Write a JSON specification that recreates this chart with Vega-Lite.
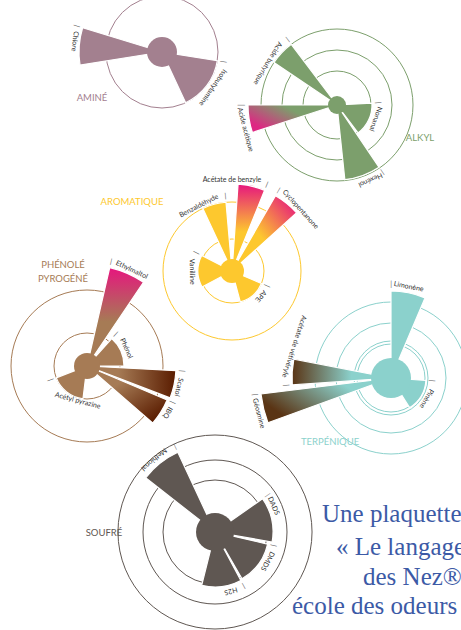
{
  "$schema": "https://vega.github.io/schema/vega-lite/v6.json",
  "width": 461,
  "height": 630,
  "padding": 0,
  "autosize": {"type": "none"},
  "background": "#ffffff",
  "config": {"view": {"stroke": null}},
  "datasets": {
    "centers": [
      {"g": "amine", "cx": 162, "cy": 52, "hub": 15},
      {"g": "alkyl", "cx": 337, "cy": 105, "hub": 9},
      {"g": "aromatique", "cx": 232, "cy": 271, "hub": 12},
      {"g": "phenole", "cx": 87, "cy": 366, "hub": 13},
      {"g": "terpenique", "cx": 391, "cy": 378, "hub": 20},
      {"g": "soufre", "cx": 215, "cy": 532, "hub": 19}
    ],
    "rings": [
      {"g": "amine", "r": 56},
      {"g": "alkyl", "r": 34}, {"g": "alkyl", "r": 55}, {"g": "alkyl", "r": 76},
      {"g": "aromatique", "r": 32}, {"g": "aromatique", "r": 69},
      {"g": "phenole", "r": 33}, {"g": "phenole", "r": 76},
      {"g": "terpenique", "r": 34}, {"g": "terpenique", "r": 37}, {"g": "terpenique", "r": 55}, {"g": "terpenique", "r": 76},
      {"g": "soufre", "r": 52}, {"g": "soufre", "r": 72}, {"g": "soufre", "r": 97}
    ],
    "wedges": [
      {"g": "amine", "name": "Chlore", "t0": 261, "t1": 287, "r": 83, "lt": 277, "lr": 88},
      {"g": "amine", "name": "Isobutylamine", "t0": 99, "t1": 155, "r": 56, "lt": 125, "lr": 62},
      {"g": "alkyl", "name": "Acide butyrique", "t0": 304, "t1": 323, "r": 76, "lt": 301, "lr": 81},
      {"g": "alkyl", "name": "Acide acétique", "t0": 252, "t1": 270, "r": 89, "lt": 255, "lr": 95},
      {"g": "alkyl", "name": "Nonanal", "t0": 87, "t1": 143, "r": 35, "lt": 110, "lr": 41},
      {"g": "alkyl", "name": "Hexénol", "t0": 146, "t1": 174, "r": 75, "lt": 156, "lr": 82},
      {"g": "aromatique", "name": "Vanilline", "t0": 242, "t1": 297, "r": 34, "lt": 269, "lr": 40},
      {"g": "aromatique", "name": "Benzaldéhyde", "t0": 335, "t1": 355, "r": 69, "lt": 333, "lr": 73},
      {"g": "aromatique", "name": "Acétate de benzyle", "t0": 4, "t1": 22, "r": 87, "lt": 0, "lr": 91},
      {"g": "aromatique", "name": "Cyclopentanone", "t0": 30, "t1": 48, "r": 87, "lt": 48, "lr": 92},
      {"g": "aromatique", "name": "APE", "t0": 113, "t1": 165, "r": 32, "lt": 131, "lr": 38},
      {"g": "phenole", "name": "Ethylmaltol", "t0": 13, "t1": 34, "r": 101, "lt": 25, "lr": 106},
      {"g": "phenole", "name": "Phénol", "t0": 42, "t1": 90, "r": 37, "lt": 66, "lr": 43},
      {"g": "phenole", "name": "Scatol", "t0": 93, "t1": 111, "r": 89, "lt": 103, "lr": 94},
      {"g": "phenole", "name": "IBQ", "t0": 113, "t1": 131, "r": 87, "lt": 120, "lr": 93},
      {"g": "phenole", "name": "Acétyl pyrazine", "t0": 187, "t1": 249, "r": 33, "lt": 195, "lr": 36},
      {"g": "terpenique", "name": "Limonène", "t0": 0, "t1": 23, "r": 87, "lt": 11, "lr": 93},
      {"g": "terpenique", "name": "Pinène", "t0": 94, "t1": 148, "r": 35, "lt": 120, "lr": 41},
      {"g": "terpenique", "name": "Acétate de vétivéryle", "t0": 266, "t1": 281, "r": 99, "lt": 288, "lr": 102},
      {"g": "terpenique", "name": "Géosmine", "t0": 250, "t1": 263, "r": 131, "lt": 255, "lr": 137},
      {"g": "soufre", "name": "Methional", "t0": 308, "t1": 335, "r": 88, "lt": 320, "lr": 95},
      {"g": "soufre", "name": "DADS", "t0": 55, "t1": 100, "r": 58, "lt": 66, "lr": 64},
      {"g": "soufre", "name": "DMDS", "t0": 103, "t1": 150, "r": 54, "lt": 119, "lr": 60},
      {"g": "soufre", "name": "H2S", "t0": 152, "t1": 194, "r": 55, "lt": 165, "lr": 61}
    ],
    "titles": [
      {"g": "amine", "text": "AMINÉ", "x": 92, "y": 98},
      {"g": "alkyl", "text": "ALKYL", "x": 420, "y": 138},
      {"g": "aromatique", "text": "AROMATIQUE", "x": 132, "y": 202},
      {"g": "phenole", "text": "PHÉNOLÉ", "x": 63, "y": 265},
      {"g": "phenole", "text": "PYROGÉNÉ", "x": 63, "y": 279},
      {"g": "terpenique", "text": "TERPÉNIQUE", "x": 330, "y": 442},
      {"g": "soufre", "text": "SOUFRÉ", "x": 104, "y": 533}
    ],
    "notes": [
      {"text": "Une plaquette", "x": 322, "y": 522},
      {"text": "« Le langage", "x": 336, "y": 555},
      {"text": "des Nez®", "x": 363, "y": 585},
      {"text": "école des odeurs »", "x": 292, "y": 614}
    ]
  },
  "layer": [
    {
      "data": {"name": "rings"},
      "transform": [{"lookup": "g", "from": {"data": {"name": "centers"}, "key": "g", "fields": ["cx", "cy"]}}],
      "mark": {"type": "arc", "filled": false, "theta": 0, "theta2": 6.2832, "strokeWidth": 1},
      "encoding": {
        "x": {"field": "cx", "type": "quantitative", "scale": {"domain": [0, 461], "nice": false, "zero": false}, "axis": null},
        "y": {"field": "cy", "type": "quantitative", "scale": {"domain": [0, 630], "reverse": true, "nice": false, "zero": false}, "axis": null},
        "radius": {"field": "r", "type": "quantitative", "stack": null, "scale": {"type": "linear", "domain": [0, 100], "range": [0, 100], "zero": true}},
        "stroke": {"field": "g", "type": "nominal", "legend": null, "scale": {"domain": ["amine", "alkyl", "aromatique", "phenole", "terpenique", "soufre"], "range": ["#a3808f", "#7c9f6c", "#fdc82e", "#a67b55", "#8bd1cc", "#5f5752"]}}
      }
    },
    {
      "data": {"name": "wedges"},
      "transform": [{"lookup": "g", "from": {"data": {"name": "centers"}, "key": "g", "fields": ["cx", "cy"]}}],
      "mark": {"type": "arc", "stroke": "#ffffff", "strokeWidth": 1.2},
      "encoding": {
        "x": {"field": "cx", "type": "quantitative", "axis": null},
        "y": {"field": "cy", "type": "quantitative", "axis": null},
        "theta": {"field": "t0", "type": "quantitative", "stack": null, "scale": {"domain": [0, 360], "range": [0, 6.283185]}},
        "theta2": {"field": "t1"},
        "radius": {"field": "r", "type": "quantitative", "stack": null},
        "fill": {
          "field": "g", "type": "nominal", "legend": null,
          "scale": {"domain": ["amine", "alkyl", "aromatique", "phenole", "terpenique", "soufre"], "range": ["#a3808f", "#7c9f6c", "#fdc82e", "#a67b55", "#8bd1cc", "#5f5752"]},
          "condition": [
            {"test": "datum.name === 'Acide acétique'", "value": {"gradient": "linear", "x1": 1, "y1": 0, "x2": 0, "y2": 0.6, "stops": [{"offset": 0, "color": "#7c9f6c"}, {"offset": 0.45, "color": "#7c9f6c"}, {"offset": 1, "color": "#de2783"}]}},
            {"test": "datum.name === 'Acétate de benzyle'", "value": {"gradient": "linear", "x1": 0.5, "y1": 1, "x2": 0.5, "y2": 0, "stops": [{"offset": 0, "color": "#fdc82e"}, {"offset": 0.45, "color": "#fdc82e"}, {"offset": 1, "color": "#e6167e"}]}},
            {"test": "datum.name === 'Cyclopentanone'", "value": {"gradient": "linear", "x1": 0, "y1": 1, "x2": 1, "y2": 0, "stops": [{"offset": 0, "color": "#fdc82e"}, {"offset": 0.45, "color": "#fdc82e"}, {"offset": 0.95, "color": "#e6167e"}]}},
            {"test": "datum.name === 'Ethylmaltol'", "value": {"gradient": "linear", "x1": 0.5, "y1": 1, "x2": 0.5, "y2": 0, "stops": [{"offset": 0, "color": "#a67b55"}, {"offset": 0.45, "color": "#a67b55"}, {"offset": 1, "color": "#e6167e"}]}},
            {"test": "datum.name === 'Scatol'", "value": {"gradient": "linear", "x1": 0, "y1": 0.5, "x2": 1, "y2": 0.5, "stops": [{"offset": 0, "color": "#a67b55"}, {"offset": 0.35, "color": "#a67b55"}, {"offset": 1, "color": "#5a1c00"}]}},
            {"test": "datum.name === 'IBQ'", "value": {"gradient": "linear", "x1": 0, "y1": 0, "x2": 1, "y2": 1, "stops": [{"offset": 0, "color": "#a67b55"}, {"offset": 0.35, "color": "#a67b55"}, {"offset": 0.9, "color": "#5a1c00"}]}},
            {"test": "datum.name === 'Acétate de vétivéryle'", "value": {"gradient": "linear", "x1": 1, "y1": 0.5, "x2": 0, "y2": 0.5, "stops": [{"offset": 0, "color": "#8bd1cc"}, {"offset": 0.4, "color": "#8bd1cc"}, {"offset": 1, "color": "#5a3414"}]}},
            {"test": "datum.name === 'Géosmine'", "value": {"gradient": "linear", "x1": 1, "y1": 0, "x2": 0, "y2": 0.5, "stops": [{"offset": 0, "color": "#8bd1cc"}, {"offset": 0.35, "color": "#8bd1cc"}, {"offset": 1, "color": "#5a3414"}]}}
          ]
        }
      }
    },
    {
      "data": {"name": "centers"},
      "mark": {"type": "arc", "theta": 0, "theta2": 6.2832},
      "encoding": {
        "x": {"field": "cx", "type": "quantitative", "axis": null},
        "y": {"field": "cy", "type": "quantitative", "axis": null},
        "radius": {"field": "hub", "type": "quantitative", "stack": null},
        "fill": {"field": "g", "type": "nominal", "legend": null}
      }
    },
    {
      "data": {"name": "wedges"},
      "transform": [
        {"lookup": "g", "from": {"data": {"name": "centers"}, "key": "g", "fields": ["cx", "cy"]}},
        {"filter": {"field": "name", "oneOf": ["Isobutylamine", "Nonanal", "Hexénol", "Cyclopentanone", "APE", "Ethylmaltol", "Phénol", "Scatol", "IBQ", "Limonène", "Pinène", "Acétate de vétivéryle", "DADS", "DMDS", "H2S"]}}
      ],
      "mark": {"type": "text", "text": "|", "font": "Lato", "fontSize": 7, "fill": "#555555", "align": "center", "baseline": "middle", "dy": -6},
      "encoding": {
        "x": {"field": "cx", "type": "quantitative", "axis": null},
        "y": {"field": "cy", "type": "quantitative", "axis": null},
        "theta": {"field": "t0", "type": "quantitative", "stack": null},
        "radius": {"field": "r", "type": "quantitative", "stack": null},
        "angle": {"field": "t0", "type": "quantitative", "scale": {"domain": [0, 360], "range": [0, 360]}}
      }
    },
    {
      "data": {"name": "wedges"},
      "transform": [
        {"lookup": "g", "from": {"data": {"name": "centers"}, "key": "g", "fields": ["cx", "cy"]}},
        {"filter": {"field": "name", "oneOf": ["Chlore", "Acide butyrique", "Acide acétique", "Vanilline", "Benzaldéhyde", "Acétate de benzyle", "Acétyl pyrazine", "Géosmine", "Methional"]}}
      ],
      "mark": {"type": "text", "text": "|", "font": "Lato", "fontSize": 7, "fill": "#555555", "align": "center", "baseline": "middle", "dy": -6},
      "encoding": {
        "x": {"field": "cx", "type": "quantitative", "axis": null},
        "y": {"field": "cy", "type": "quantitative", "axis": null},
        "theta": {"field": "t1", "type": "quantitative", "stack": null},
        "radius": {"field": "r", "type": "quantitative", "stack": null},
        "angle": {"field": "t1", "type": "quantitative", "scale": {"domain": [0, 360], "range": [0, 360]}}
      }
    },
    {
      "data": {"name": "wedges"},
      "transform": [
        {"lookup": "g", "from": {"data": {"name": "centers"}, "key": "g", "fields": ["cx", "cy"]}},
        {"filter": {"field": "name", "oneOf": ["Isobutylamine", "Nonanal", "Hexénol", "Benzaldéhyde", "Acétate de benzyle", "Cyclopentanone", "APE", "Ethylmaltol", "Phénol", "Scatol", "IBQ", "Limonène", "Pinène", "DADS", "DMDS", "H2S"]}}
      ],
      "mark": {"type": "text", "font": "Lato", "fontSize": 7, "fill": "#333333", "align": "center", "baseline": "middle"},
      "encoding": {
        "x": {"field": "cx", "type": "quantitative", "axis": null},
        "y": {"field": "cy", "type": "quantitative", "axis": null},
        "theta": {"field": "lt", "type": "quantitative", "stack": null},
        "radius": {"field": "lr", "type": "quantitative", "stack": null},
        "angle": {"field": "lt", "type": "quantitative", "scale": {"domain": [0, 360], "range": [0, 360]}},
        "text": {"field": "name", "type": "nominal"}
      }
    },
    {
      "data": {"name": "wedges"},
      "transform": [
        {"lookup": "g", "from": {"data": {"name": "centers"}, "key": "g", "fields": ["cx", "cy"]}},
        {"filter": {"field": "name", "oneOf": ["Chlore", "Acide butyrique", "Acide acétique", "Vanilline", "Acétyl pyrazine", "Acétate de vétivéryle", "Géosmine", "Methional"]}}
      ],
      "mark": {"type": "text", "font": "Lato", "fontSize": 7, "fill": "#333333", "align": "center", "baseline": "middle"},
      "encoding": {
        "x": {"field": "cx", "type": "quantitative", "axis": null},
        "y": {"field": "cy", "type": "quantitative", "axis": null},
        "theta": {"field": "lt", "type": "quantitative", "stack": null},
        "radius": {"field": "lr", "type": "quantitative", "stack": null},
        "angle": {"field": "lt", "type": "quantitative", "scale": {"domain": [0, 360], "range": [180, 540]}},
        "text": {"field": "name", "type": "nominal"}
      }
    },
    {
      "data": {"name": "titles"},
      "mark": {"type": "text", "font": "Lato", "fontSize": 9.5, "align": "center", "baseline": "middle"},
      "encoding": {
        "x": {"field": "x", "type": "quantitative", "axis": null},
        "y": {"field": "y", "type": "quantitative", "axis": null},
        "text": {"field": "text", "type": "nominal"},
        "fill": {"field": "g", "type": "nominal", "legend": null}
      }
    },
    {
      "data": {"name": "notes"},
      "mark": {"type": "text", "font": "Liberation Serif", "fontSize": 25, "fill": "#3c5aa6", "align": "left", "baseline": "alphabetic"},
      "encoding": {
        "x": {"field": "x", "type": "quantitative", "axis": null},
        "y": {"field": "y", "type": "quantitative", "axis": null},
        "text": {"field": "text", "type": "nominal"}
      }
    }
  ],
  "resolve": {"scale": {"angle": "independent"}}
}
